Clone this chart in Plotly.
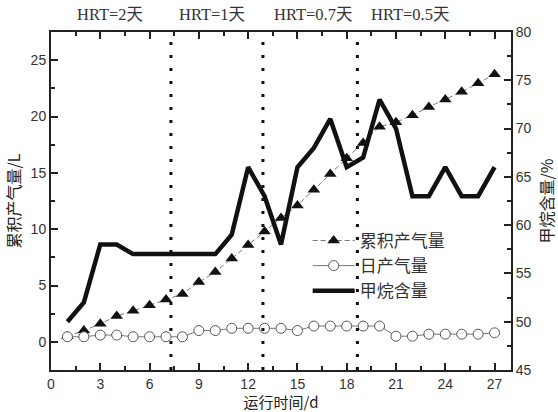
import plotly.graph_objects as go

days = list(range(1, 28))
cumulative = [0.5, 1.0, 1.6, 2.3, 2.75, 3.25, 3.75, 4.25, 5.3, 6.2, 7.4, 8.6, 9.8,
              11.0, 12.1, 13.5, 14.9, 16.3, 17.65, 19.1, 19.5, 20.1, 20.85, 21.5,
              22.2, 22.95, 23.75]
daily = [0.45, 0.45, 0.6, 0.6, 0.45, 0.45, 0.45, 0.45, 1.0, 1.0, 1.2, 1.2, 1.2,
         1.2, 1.0, 1.4, 1.4, 1.4, 1.4, 1.4, 0.5, 0.5, 0.68, 0.68, 0.68, 0.68, 0.8]
methane = [50, 52, 58, 58, 57, 57, 57, 57, 57, 57, 59, 66, 63, 58, 66, 68, 71, 66,
           67, 73, 70, 63, 63, 66, 63, 63, 66]
hrt_bounds = [7.3, 12.9, 18.65]
hrt_labels = ["HRT=2天", "HRT=1天", "HRT=0.7天", "HRT=0.5天"]
hrt_label_x = [3.6, 9.8, 15.95, 21.85]

CJK = "Noto Sans CJK SC"
fig = go.Figure()

fig.add_trace(go.Scatter(
    x=days, y=cumulative, name="累积产气量", mode="lines+markers",
    line=dict(color="#777777", width=1, dash="5px,3px"),
    marker=dict(symbol="triangle-up", size=11, color="#111111"),
))
fig.add_trace(go.Scatter(
    x=days, y=daily, name="日产气量", mode="lines+markers",
    line=dict(color="#777777", width=1),
    marker=dict(symbol="circle", size=10, color="white",
                line=dict(color="#555555", width=1)),
))
fig.add_trace(go.Scatter(
    x=days, y=methane, name="甲烷含量", mode="lines", yaxis="y2",
    line=dict(color="#111111", width=4.5),
))

for xb in hrt_bounds:
    fig.add_shape(type="line", xref="x", yref="paper", x0=xb, x1=xb, y0=0, y1=1,
                  line=dict(color="#111111", width=3, dash="3px,10px"))

for lab, xl in zip(hrt_labels, hrt_label_x):
    fig.add_annotation(text=lab, x=xl, xref="x", y=1.052, yref="paper",
                       showarrow=False, xanchor="center", yanchor="middle",
                       font=dict(family="Liberation Serif, " + CJK, size=16.5,
                                 color="#333333"))

tickfont = dict(family="Liberation Sans, Arial", size=14, color="#333333")
titlefont = dict(family=CJK, size=16, color="#222222")

fig.update_layout(
    width=558, height=412,
    margin=dict(l=51, r=47, t=32, b=42),
    paper_bgcolor="white", plot_bgcolor="white",
    showlegend=True,
    legend=dict(x=0.558, y=0.435, xanchor="left", yanchor="top",
                bgcolor="rgba(0,0,0,0)", font=dict(family=CJK, size=17,
                                                   color="#333333"),
                tracegroupgap=0, itemwidth=42),
    xaxis=dict(range=[0, 28], tick0=0, dtick=3, ticks="inside", ticklen=7,
               tickwidth=1.5, tickcolor="#222222", automargin=False,
               showline=True, linecolor="#222222", linewidth=2, mirror="ticks",
               showgrid=False, zeroline=False, tickfont=tickfont,
               minor=dict(dtick=1.5, ticks="inside", ticklen=4, tickwidth=1.5,
                          tickcolor="#222222", showgrid=False),
               title=dict(text="运行时间/d",
                          font=dict(family=CJK, size=15, color="#222222"),
                          standoff=9)),
    yaxis=dict(range=[-2.5, 27.5], tick0=0, dtick=5, ticks="inside", ticklen=7,
               tickwidth=1.5, tickcolor="#222222", automargin=False,
               showline=True, linecolor="#222222", linewidth=2, mirror=True,
               showgrid=False, zeroline=False, tickfont=tickfont,
               minor=dict(dtick=2.5, ticks="inside", ticklen=4, tickwidth=1.5,
                          tickcolor="#222222", showgrid=False),
               title=dict(text="累积产气量/L", font=titlefont, standoff=6)),
    yaxis2=dict(range=[45, 80], tick0=45, dtick=5, ticks="inside", ticklen=7,
                tickwidth=1.5, tickcolor="#222222", overlaying="y", side="right",
                automargin=False,
                showline=True, linecolor="#222222", linewidth=2,
                showgrid=False, zeroline=False, tickfont=tickfont,
                minor=dict(dtick=2.5, ticks="inside", ticklen=4, tickwidth=1.5,
                           tickcolor="#222222", showgrid=False),
                title=dict(text="甲烷含量/%", font=titlefont, standoff=12)),
)

fig.write_html("out.html")
